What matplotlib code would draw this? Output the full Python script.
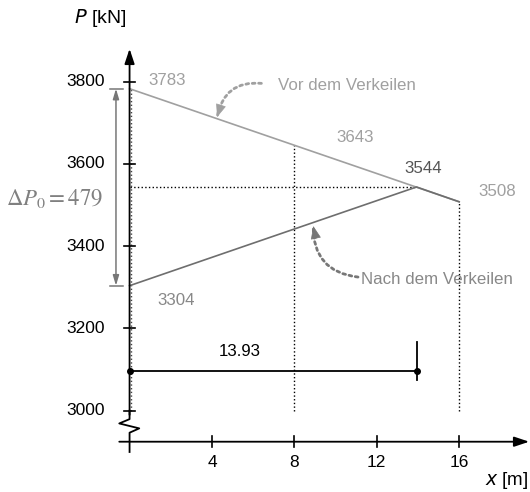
import matplotlib.pyplot as plt
import numpy as np

plt.rcParams['font.family'] = ['Liberation Sans', 'DejaVu Sans']
plt.rcParams['mathtext.fontset'] = 'stix'

# Werte aus dem Diagramm
x_vor = [0, 16]
p_vor = [3783, 3508]
x_nach = [0, 13.93, 16]
p_nach = [3304, 3544, 3508]
x_ticks = [4, 8, 12, 16]
p_ticks = [3000, 3200, 3400, 3600, 3800]
x_mid = 8
p_mid = 3643
dP0 = 479
l_keil = 13.93

c_light = '#a0a0a0'
c_dark = '#6e6e6e'
c_text = '#888888'
fs = 12.2

fig = plt.figure(figsize=(5.3, 4.92), dpi=100)
ax = fig.add_axes([0, 0, 1, 1])
ax.set_xlim(-6.29, 19.44)
ax.set_ylim(2802.3, 3998.7)
ax.axis('off')

p_base = 2924.6  # Lage der x-Achse (Achsbruch)


def zeiger(start, tip, kopf_von, rad, farbe):
    # gepunktete Kurve mit massiver Pfeilspitze
    ax.annotate('', xy=tip, xytext=start,
                arrowprops=dict(arrowstyle='-', color=farbe, lw=2, ls=(0, (1, 1.3)),
                                connectionstyle='arc3,rad=%g' % rad,
                                shrinkA=0, shrinkB=0))
    ax.annotate('', xy=tip, xytext=kopf_von,
                arrowprops=dict(arrowstyle='-|>,head_length=0.55,head_width=0.22',
                                mutation_scale=15, color=farbe, lw=0.5,
                                shrinkA=0, shrinkB=0))


# Hilfslinien (gepunktet)
ax.plot([0, x_nach[1]], [p_nach[1], p_nach[1]], color='black', ls=':', lw=1)
ax.plot([x_mid, x_mid], [3000, np.interp(x_mid, x_vor, p_vor)], color='black', ls=':', lw=1)
ax.plot([x_vor[1], x_vor[1]], [3000, p_vor[1]], color='black', ls=':', lw=1)
ax.plot([0.07, 0.07], [3000, p_vor[0]], color='#444444', ls=':', lw=1)

# Kraftverlauf
ax.plot(x_vor, p_vor, color=c_light, lw=1.2)
ax.plot(x_nach, p_nach, color=c_dark, lw=1.2)

# y-Achse mit Achsbruch
ax.plot([0, 0, -0.5, 0.47, 0, 0],
        [3000, 2979.5, 2969, 2957, 2946.5, 2899.6], color='black', lw=1.3)
ax.annotate('', xy=(0, 3880), xytext=(0, 2990),
            arrowprops=dict(arrowstyle='-|>,head_length=0.6,head_width=0.2',
                            mutation_scale=15, color='black', lw=1.3,
                            shrinkA=0, shrinkB=0))
for p in p_ticks:
    ax.plot([-0.25, 0.25], [p, p], color='black', lw=1.2)
    ax.text(-1.2, p, str(p), ha='right', va='center', fontsize=12.5)

# x-Achse
ax.annotate('', xy=(19.4, p_base), xytext=(-0.5, p_base),
            arrowprops=dict(arrowstyle='-|>,head_length=0.6,head_width=0.2',
                            mutation_scale=15, color='black', lw=1.3,
                            shrinkA=0, shrinkB=0))
for x in x_ticks:
    ax.plot([x, x], [p_base - 13, p_base + 13], color='black', lw=1.2)
    ax.text(x, p_base - 32, str(x), ha='center', va='top', fontsize=12.5)

ax.text(-1.43, 3955, '$P$ [kN]', ha='center', va='center', fontsize=14,
        math_fontfamily='dejavusans')
ax.text(18.33, 2831, '$x$ [m]', ha='center', va='center', fontsize=13.5,
        math_fontfamily='dejavusans')

# Werte an den Linien
ax.text(1.82, 3804, str(p_vor[0]), ha='center', va='center', fontsize=fs, color=c_light)
ax.text(10.95, 3665, str(p_mid), ha='center', va='center', fontsize=fs, color=c_light)
ax.text(14.25, 3590, str(p_nach[1]), ha='center', va='center', fontsize=fs, color='#555555')
ax.text(17.84, 3532, str(p_vor[1]), ha='center', va='center', fontsize=fs, color=c_light)
ax.text(2.26, 3269, str(p_nach[0]), ha='center', va='center', fontsize=fs, color=c_text)

# Beschriftung der Kurven
ax.text(7.2, 3792, 'Vor dem Verkeilen', ha='left', va='center', fontsize=fs, color=c_light)
zeiger((6.4, 3796), (4.25, 3714), (4.45, 3745), 0.45, c_light)
ax.text(11.24, 3320, 'Nach dem Verkeilen', ha='left', va='center', fontsize=fs, color=c_text)
zeiger((11.09, 3325), (8.92, 3449), (9.05, 3418), -0.45, '#777777')

# Bemaßung Delta P0
ax.annotate('', xy=(-0.66, p_vor[0]), xytext=(-0.66, p_vor[0] - dP0),
            arrowprops=dict(arrowstyle='<|-|>,head_length=0.5,head_width=0.15',
                            mutation_scale=12, color='#777777', lw=1.1,
                            shrinkA=0, shrinkB=0))
ax.plot([-0.95, -0.3], [p_vor[0], p_vor[0]], color='#777777', lw=1.1)
ax.plot([-0.95, -0.3], [p_nach[0], p_nach[0]], color='#777777', lw=1.1)
ax.text(-3.62, 3517, r'$\Delta P_0 = %d$' % dP0, ha='center', va='center',
        fontsize=16.5, color='#808080')

# Bemaßung Keillänge
ax.plot([0, l_keil], [3097, 3097], color='black', lw=1.3)
ax.plot([0, l_keil], [3097, 3097], 'o', color='black', ms=4)
ax.plot([l_keil, l_keil], [3075, 3168], color='black', lw=1.3)
ax.text(l_keil / 2 - 1.6, 3143, '%.2f' % l_keil, ha='center', va='center', fontsize=fs)

fig.savefig('out.png', dpi=100)
